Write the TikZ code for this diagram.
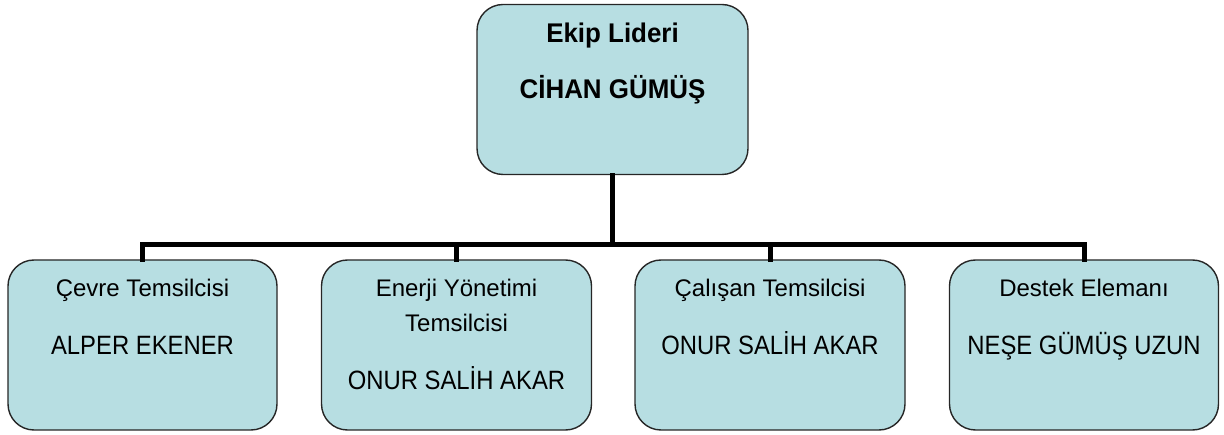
\documentclass[tikz,border=0pt]{standalone}
\usepackage{fontspec}
\setmainfont{Liberation Sans}
\newfontfamily\namefont[FakeStretch=0.9]{Liberation Sans}
\newfontfamily\headfont[FakeStretch=0.96]{Liberation Sans}
\definecolor{boxfill}{RGB}{183,222,226}
\begin{document}
\begin{tikzpicture}[x=1pt,y=-1pt,
  orgbox/.style={draw=black!85, line width=1.4pt, fill=boxfill, rounded corners=26pt, inner sep=0pt, minimum width=269pt, minimum height=170pt},
  ttl/.style={anchor=base, inner sep=0pt, font=\fontsize{24}{28}\selectfont},
  nm/.style={anchor=base, inner sep=0pt, font=\namefont\fontsize{26.5}{30}\selectfont},
  bld/.style={anchor=base, inner sep=0pt, font=\headfont\fontsize{27}{31}\selectfont\bfseries},
  conn/.style={line width=5pt, line join=miter, line cap=rect}]
\useasboundingbox (0,0) rectangle (1224,435);
% boxes
\node[orgbox, minimum width=271pt] (top) at (612.5,89.5) {};
\node[orgbox] (c1) at (142.5,345) {};
\node[orgbox, minimum width=270pt] (c2) at (456.5,345) {};
\node[orgbox, minimum width=270pt] (c3) at (770,345) {};
\node[orgbox] (c4) at (1084,345) {};
% connectors
\coordinate (j) at (612.5,245);
\draw[conn] (top.south) -- (j);
\draw[conn] (c1.north) |- (j) -| (c4.north);
\draw[conn] (c2.north) -- (c2.north |- j);
\draw[conn] (c3.north) -- (c3.north |- j);
% texts
\node[bld] (t1) at (612.5,43) {Ekip Lideri};
\node[bld] (t2) at (612.5,99) {CİHAN GÜMÜŞ};
\node[ttl] (a1) at (142.5,297) {Çevre Temsilcisi};
\node[nm] (a2) at (142.5,355) {ALPER EKENER};
\node[ttl] (b1) at (456.5,297) {Enerji Yönetimi};
\node[ttl] (b2) at (456.5,332) {Temsilcisi};
\node[nm] (b3) at (456.5,390) {ONUR SALİH AKAR};
\node[ttl] (d1) at (770,297) {Çalışan Temsilcisi};
\node[nm] (d2) at (770,355) {ONUR SALİH AKAR};
\node[ttl] (e1) at (1084,297) {Destek Elemanı};
\node[nm] (e2) at (1084,355) {NEŞE GÜMÜŞ UZUN};
\end{tikzpicture}
\end{document}
